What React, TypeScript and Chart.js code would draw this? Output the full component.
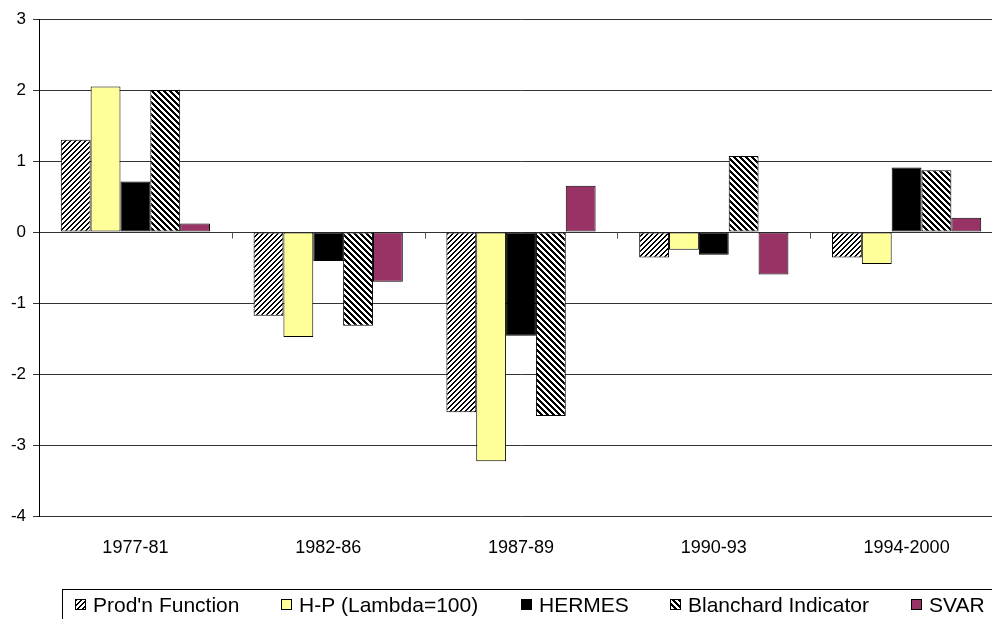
import React, { useEffect, useRef } from "react";
import { Chart, registerables } from "chart.js";

Chart.register(...registerables);

// Output-gap estimates by period and method
const periods = ["1977-81", "1982-86", "1987-89", "1990-93", "1994-2000"];
const prodFunction = [1.3, -1.18, -2.54, -0.36, -0.36];
const hpLambda100 = [2.05, -1.48, -3.23, -0.25, -0.45];
const hermes = [0.71, -0.41, -1.46, -0.32, 0.91];
const blanchard = [2.0, -1.32, -2.59, 1.07, 0.87];
const svar = [0.12, -0.7, 0.65, -0.6, 0.2];
const seriesNames = [
  "Prod'n Function",
  "H-P (Lambda=100)",
  "HERMES",
  "Blanchard Indicator",
  "SVAR",
];
const yMin = -4;
const yMax = 3;

const FONT = "'Liberation Sans', Arial, sans-serif";
const W = 992;
const H = 619;

// Pixel-exact diagonal hatch tile; dir 1 = "/" stripes, -1 = "\" stripes
function hatch(period: number, width: number, dir: number): CanvasPattern | string {
  const c = document.createElement("canvas");
  c.width = period;
  c.height = period;
  const ctx = c.getContext("2d");
  if (!ctx) return "#fff";
  const img = ctx.createImageData(period, period);
  for (let y = 0; y < period; y++) {
    for (let x = 0; x < period; x++) {
      const k = dir > 0 ? (x + y) % period : (((x - y) % period) + period) % period;
      const v = k < width ? 0 : 255;
      const i = (y * period + x) * 4;
      img.data[i] = v;
      img.data[i + 1] = v;
      img.data[i + 2] = v;
      img.data[i + 3] = 255;
    }
  }
  ctx.putImageData(img, 0, 0);
  return ctx.createPattern(c, "repeat") || "#fff";
}

// Small tick marks on the zero line between categories
const zeroTicks = {
  id: "zeroTicks",
  afterDatasetsDraw(chart: any) {
    const { ctx, scales } = chart;
    const xs = scales.x;
    const ys = scales.y;
    const y0 = Math.round(ys.getPixelForValue(0)) + 0.5;
    ctx.save();
    ctx.strokeStyle = "#555";
    ctx.lineWidth = 1;
    for (let i = 0; i < periods.length - 1; i++) {
      const x = Math.round((xs.getPixelForValue(i) + xs.getPixelForValue(i + 1)) / 2) + 0.5;
      ctx.beginPath();
      ctx.moveTo(x, y0);
      ctx.lineTo(x, y0 + 6);
      ctx.stroke();
    }
    ctx.restore();
  },
};

// Boxed single-row legend along the bottom
const boxedLegend = {
  id: "boxedLegend",
  afterDraw(chart: any) {
    const { ctx } = chart;
    const boxLeft = 62;
    const boxTop = 589;
    const startX = 75;
    const endX = 985;
    const midY = 605;
    const sw = 11;
    const swGap = 7;
    ctx.save();
    ctx.strokeStyle = "#000";
    ctx.lineWidth = 1;
    ctx.strokeRect(boxLeft + 0.5, boxTop + 0.5, 1200, 80);
    ctx.font = `21px ${FONT}`;
    ctx.textBaseline = "middle";
    ctx.fillStyle = "#000";
    const widths = chart.data.datasets.map((d: any) => ctx.measureText(d.label).width);
    const used = widths.reduce((a: number, b: number) => a + b, 0) + widths.length * (sw + swGap);
    const gap = (endX - startX - used) / (widths.length - 1);
    let x = startX;
    chart.data.datasets.forEach((d: any, i: number) => {
      const sx = Math.round(x);
      ctx.fillStyle = d.backgroundColor;
      ctx.fillRect(sx, midY - 6, sw, sw);
      ctx.strokeStyle = "#000";
      ctx.strokeRect(sx + 0.5, midY - 6 + 0.5, sw - 1, sw - 1);
      ctx.fillStyle = "#000";
      ctx.fillText(d.label, sx + sw + swGap, midY + 1);
      x += sw + swGap + widths[i] + gap;
    });
    ctx.restore();
  },
};

export default function App() {
  const ref = useRef<HTMLCanvasElement>(null);

  useEffect(() => {
    const canvas = ref.current;
    if (!canvas) return;
    const prodPattern = hatch(5, 2, 1);
    const blanchPattern = hatch(6, 3, -1);
    const common = {
      borderColor: "#000",
      borderWidth: 1,
      borderSkipped: false,
      categoryPercentage: 0.774,
      barPercentage: 1,
    };
    const chart = new Chart(canvas, {
      type: "bar",
      data: {
        labels: periods,
        datasets: [
          { label: seriesNames[0], data: prodFunction, backgroundColor: prodPattern, ...common },
          { label: seriesNames[1], data: hpLambda100, backgroundColor: "#FFFF99", ...common },
          { label: seriesNames[2], data: hermes, backgroundColor: "#000000", ...common },
          { label: seriesNames[3], data: blanchard, backgroundColor: blanchPattern, ...common },
          { label: seriesNames[4], data: svar, backgroundColor: "#993366", ...common },
        ] as any,
      },
      options: {
        animation: false,
        responsive: false,
        maintainAspectRatio: false,
        layout: { padding: { top: 19, left: 0, right: 0, bottom: 0 } },
        plugins: {
          legend: { display: false },
          tooltip: { enabled: false },
        },
        scales: {
          x: {
            offset: true,
            grid: { display: false, drawTicks: false },
            border: { display: false },
            ticks: {
              color: "#000",
              font: { family: FONT, size: 18 },
              padding: 21,
              maxRotation: 0,
            },
            afterFit(scale: any) {
              scale.height = 103;
            },
          },
          y: {
            min: yMin,
            max: yMax,
            ticks: {
              stepSize: 1,
              color: "#000",
              font: { family: FONT, size: 17 },
              padding: 7,
            },
            grid: { color: "#333", lineWidth: 1, tickLength: 6 },
            border: { color: "#000", width: 1 },
            afterFit(scale: any) {
              scale.width = 39;
            },
          },
        },
      } as any,
      plugins: [zeroTicks, boxedLegend],
    });
    return () => chart.destroy();
  }, []);

  return (
    <div
      style={{
        position: "fixed",
        left: 0,
        top: 0,
        width: W,
        height: H,
        overflow: "hidden",
        background: "#fff",
      }}
    >
      <canvas ref={ref} width={1003} height={H} style={{ display: "block" }} />
    </div>
  );
}
